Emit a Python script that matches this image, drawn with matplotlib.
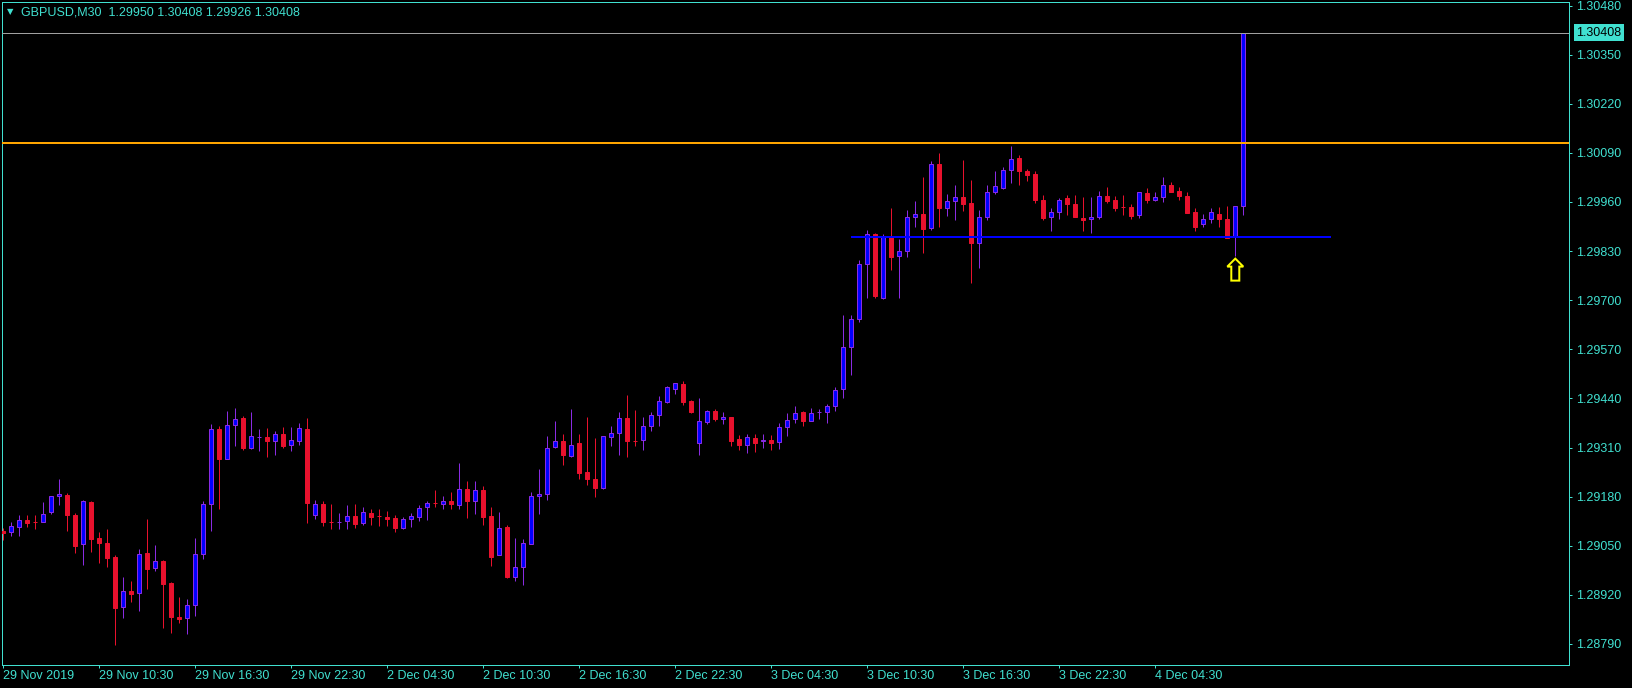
import matplotlib
matplotlib.use('Agg')
import matplotlib.pyplot as plt
from matplotlib.patches import Rectangle, Polygon
import matplotlib.transforms as mtransforms

# ---------------- data (GBPUSD M30) ----------------
opens = [1.29088, 1.29086, 1.29099, 1.29117, 1.29113, 1.29112, 1.29140, 1.29181, 1.29184, 1.29131,
         1.29054, 1.29166, 1.29070, 1.29056, 1.29019, 1.28887, 1.28930, 1.28924, 1.29030, 1.28990,
         1.29009, 1.28952, 1.28861, 1.28860, 1.28892, 1.29029, 1.29160, 1.29358, 1.29280, 1.29369,
         1.29387, 1.29309, 1.29338, 1.29338, 1.29326, 1.29346, 1.29318, 1.29328, 1.29358, 1.29131,
         1.29160, 1.29113, 1.29112, 1.29115, 1.29128, 1.29109, 1.29136, 1.29129, 1.29126, 1.29123,
         1.29098, 1.29120, 1.29126, 1.29152, 1.29163, 1.29160, 1.29168, 1.29157, 1.29199, 1.29168,
         1.29197, 1.29128, 1.29025, 1.29099, 1.28968, 1.28993, 1.29054, 1.29181, 1.29186, 1.29311,
         1.29326, 1.29287, 1.29321, 1.29244, 1.29228, 1.29204, 1.29338, 1.29348, 1.29387, 1.29328,
         1.29329, 1.29367, 1.29395, 1.29430, 1.29466, 1.29478, 1.29432, 1.29321, 1.29377, 1.29406,
         1.29385, 1.29390, 1.29332, 1.29318, 1.29335, 1.29328, 1.29329, 1.29324, 1.29364, 1.29385,
         1.29403, 1.29379, 1.29403, 1.29403, 1.29421, 1.29466, 1.29575, 1.29649, 1.29795, 1.29874,
         1.29707, 1.29868, 1.29816, 1.29830, 1.29919, 1.29927, 1.29891, 1.30060, 1.29943, 1.29962,
         1.29972, 1.29957, 1.29851, 1.29919, 1.29986, 1.29998, 1.30045, 1.30076, 1.30041, 1.30033,
         1.29965, 1.29919, 1.29933, 1.29970, 1.29955, 1.29917, 1.29914, 1.29919, 1.29976, 1.29965,
         1.29947, 1.29946, 1.29925, 1.29984, 1.29965, 1.29972, 1.30004, 1.29988, 1.29977, 1.29933,
         1.29901, 1.29914, 1.29927, 1.29914, 1.29868, 1.29950]
highs = [1.29098, 1.29113, 1.29131, 1.29131, 1.29131, 1.29166, 1.29181, 1.29226, 1.29189, 1.29136,
         1.29171, 1.29168, 1.29086, 1.29094, 1.29025, 1.28967, 1.28957, 1.29041, 1.29121, 1.29052,
         1.29012, 1.28955, 1.28914, 1.28909, 1.29070, 1.29168, 1.29372, 1.29367, 1.29407, 1.29415,
         1.29393, 1.29404, 1.29359, 1.29362, 1.29353, 1.29364, 1.29364, 1.29375, 1.29388, 1.29171,
         1.29168, 1.29161, 1.29137, 1.29157, 1.29161, 1.29153, 1.29147, 1.29147, 1.29142, 1.29131,
         1.29126, 1.29137, 1.29158, 1.29168, 1.29198, 1.29181, 1.29192, 1.29269, 1.29222, 1.29222,
         1.29209, 1.29153, 1.29139, 1.29105, 1.29070, 1.29067, 1.29192, 1.29253, 1.29341, 1.29380,
         1.29345, 1.29412, 1.29345, 1.29391, 1.29335, 1.29340, 1.29367, 1.29404, 1.29449, 1.29409,
         1.29391, 1.29404, 1.29446, 1.29473, 1.29480, 1.29486, 1.29437, 1.29442, 1.29409, 1.29412,
         1.29403, 1.29390, 1.29343, 1.29345, 1.29345, 1.29345, 1.29343, 1.29374, 1.29401, 1.29420,
         1.29406, 1.29414, 1.29412, 1.29424, 1.29469, 1.29661, 1.29661, 1.29806, 1.29886, 1.29878,
         1.29874, 1.29944, 1.29862, 1.29939, 1.29962, 1.30026, 1.30068, 1.30090, 1.29981, 1.30005,
         1.30071, 1.30018, 1.29939, 1.30006, 1.30041, 1.30052, 1.30108, 1.30084, 1.30047, 1.30041,
         1.29978, 1.29944, 1.29970, 1.29979, 1.29978, 1.29972, 1.29972, 1.29989, 1.29999, 1.29976,
         1.29978, 1.29955, 1.29986, 1.29996, 1.29986, 1.30026, 1.30013, 1.29999, 1.29987, 1.29944,
         1.29927, 1.29944, 1.29946, 1.29949, 1.29950, 1.30408]
lows = [1.29065, 1.29076, 1.29076, 1.29100, 1.29095, 1.29112, 1.29135, 1.29159, 1.29090, 1.29032,
        1.29000, 1.29033, 1.29005, 1.28995, 1.28788, 1.28860, 1.28902, 1.28878, 1.28936, 1.28984,
        1.28833, 1.28820, 1.28846, 1.28817, 1.28865, 1.29016, 1.29089, 1.29147, 1.29280, 1.29315,
        1.29304, 1.29306, 1.29301, 1.29286, 1.29291, 1.29309, 1.29301, 1.29318, 1.29111, 1.29122,
        1.29103, 1.29095, 1.29095, 1.29095, 1.29097, 1.29104, 1.29104, 1.29103, 1.29103, 1.29087,
        1.29095, 1.29100, 1.29116, 1.29119, 1.29153, 1.29146, 1.29146, 1.29146, 1.29124, 1.29135,
        1.29106, 1.28997, 1.29025, 1.28964, 1.28958, 1.28947, 1.29054, 1.29135, 1.29172, 1.29308,
        1.29264, 1.29284, 1.29226, 1.29212, 1.29180, 1.29199, 1.29313, 1.29290, 1.29286, 1.29313,
        1.29304, 1.29355, 1.29368, 1.29427, 1.29452, 1.29423, 1.29402, 1.29291, 1.29371, 1.29379,
        1.29371, 1.29313, 1.29304, 1.29296, 1.29299, 1.29309, 1.29304, 1.29307, 1.29341, 1.29376,
        1.29368, 1.29379, 1.29385, 1.29376, 1.29406, 1.29440, 1.29503, 1.29643, 1.29706, 1.29706,
        1.29703, 1.29781, 1.29706, 1.29814, 1.29893, 1.29826, 1.29886, 1.29895, 1.29923, 1.29912,
        1.29935, 1.29746, 1.29784, 1.29911, 1.29980, 1.29994, 1.30011, 1.30006, 1.30016, 1.29958,
        1.29911, 1.29882, 1.29916, 1.29926, 1.29921, 1.29884, 1.29879, 1.29914, 1.29958, 1.29937,
        1.29926, 1.29915, 1.29917, 1.29957, 1.29962, 1.29961, 1.29987, 1.29966, 1.29930, 1.29882,
        1.29894, 1.29903, 1.29894, 1.29865, 1.29818, 1.29926]
closes = [1.29085, 1.29103, 1.29117, 1.29111, 1.29112, 1.29133, 1.29181, 1.29187, 1.29132, 1.29050,
          1.29168, 1.29069, 1.29056, 1.29018, 1.28886, 1.28929, 1.28923, 1.29027, 1.28989, 1.29009,
          1.28950, 1.28862, 1.28857, 1.28892, 1.29027, 1.29160, 1.29358, 1.29280, 1.29369, 1.29385,
          1.29309, 1.29340, 1.29339, 1.29326, 1.29345, 1.29315, 1.29329, 1.29361, 1.29164, 1.29160,
          1.29114, 1.29112, 1.29113, 1.29128, 1.29108, 1.29139, 1.29127, 1.29128, 1.29121, 1.29098,
          1.29120, 1.29128, 1.29149, 1.29162, 1.29162, 1.29168, 1.29160, 1.29199, 1.29168, 1.29197,
          1.29127, 1.29021, 1.29096, 1.28968, 1.28993, 1.29056, 1.29181, 1.29186, 1.29308, 1.29326,
          1.29289, 1.29318, 1.29242, 1.29226, 1.29204, 1.29340, 1.29348, 1.29387, 1.29326, 1.29327,
          1.29367, 1.29395, 1.29432, 1.29469, 1.29480, 1.29431, 1.29405, 1.29380, 1.29406, 1.29385,
          1.29390, 1.29328, 1.29318, 1.29338, 1.29323, 1.29329, 1.29323, 1.29364, 1.29384, 1.29401,
          1.29379, 1.29401, 1.29404, 1.29419, 1.29461, 1.29575, 1.29649, 1.29795, 1.29874, 1.29710,
          1.29868, 1.29814, 1.29830, 1.29919, 1.29927, 1.29888, 1.30060, 1.29943, 1.29962, 1.29972,
          1.29954, 1.29851, 1.29919, 1.29986, 1.30002, 1.30045, 1.30073, 1.30041, 1.30032, 1.29964,
          1.29918, 1.29933, 1.29965, 1.29954, 1.29921, 1.29911, 1.29919, 1.29975, 1.29962, 1.29945,
          1.29946, 1.29924, 1.29986, 1.29965, 1.29972, 1.30004, 1.29987, 1.29977, 1.29932, 1.29894,
          1.29914, 1.29933, 1.29914, 1.29865, 1.29950, 1.30408]

time_labels = ["29 Nov 2019", "29 Nov 10:30", "29 Nov 16:30", "29 Nov 22:30",
               "2 Dec 04:30", "2 Dec 10:30", "2 Dec 16:30", "2 Dec 22:30",
               "3 Dec 04:30", "3 Dec 10:30", "3 Dec 16:30", "3 Dec 22:30", "4 Dec 04:30"]
bars_per_label = 12
price_ticks = [1.28790, 1.28920, 1.29050, 1.29180, 1.29310, 1.29440, 1.29570,
               1.29700, 1.29830, 1.29960, 1.30090, 1.30220, 1.30350, 1.30480]
resistance_level = 1.30117
support_level = 1.29866
support_start, support_end = 106, 166
bid_price = 1.30408
signal_bar = 154
header = "GBPUSD,M30  1.29950 1.30408 1.29926 1.30408"

# ---------------- style ----------------
TURQ = '#40E0D0'
BULL_FILL = '#0000FF'
BULL_EDGE = '#8A2BE2'
BEAR = '#E8112D'
FONT = ['Liberation Sans', 'DejaVu Sans']
PX = 0.72  # one pixel in points at 100 dpi

W, H = 1633, 688
fig = plt.figure(figsize=(W / 100, H / 100), dpi=100, facecolor='black')
ax = fig.add_axes([2 / W, 23 / H, 1567 / W, 663 / H], facecolor='black')

n = len(opens)
for i in range(n):
    o, h, l, c = opens[i], highs[i], lows[i], closes[i]
    bull = c > o
    wick = BULL_EDGE if bull else BEAR
    ax.vlines(i, l, h, color=wick, lw=PX, zorder=2)
    ax.add_patch(Rectangle((i - 0.25, min(o, c)), 0.5, abs(c - o),
                           facecolor=BULL_FILL if bull else BEAR,
                           edgecolor=wick, lw=PX, zorder=3))

# horizontal levels
ax.axhline(bid_price, color='#A0A0A0', lw=PX, zorder=4)
ax.axhline(resistance_level, color='#FFA500', lw=2 * PX, zorder=4)
ax.hlines(support_level, support_start, support_end, color='#0000FF', lw=2 * PX, zorder=4)

# signal arrow (hollow up arrow under the bar)
trans = fig.dpi_scale_trans + mtransforms.ScaledTranslation(signal_bar, lows[signal_bar], ax.transData)
arrow_px = [(0, -3), (8, -11), (4, -11), (4, -25), (-4, -25), (-4, -11), (-8, -11)]
ax.add_patch(Polygon([(x / 100, y / 100) for x, y in arrow_px], closed=True,
                     facecolor='black', edgecolor='#FFFF00', lw=2 * PX,
                     transform=trans, zorder=5, clip_on=False))

ax.set_xlim(-1.3 / 8, -1.3 / 8 + 1567 / 8)
ax.set_ylim(1.304946 - 665 * 0.00002647, 1.304946 - 2 * 0.00002647)

# axes styling
for s in ax.spines.values():
    s.set_color(TURQ)
    s.set_linewidth(PX)

ax.set_xticks(list(range(0, bars_per_label * len(time_labels), bars_per_label)))
ax.set_xticklabels(time_labels, fontfamily=FONT)
for lab in ax.get_xticklabels():
    lab.set_horizontalalignment('left')
ax.tick_params(axis='x', direction='out', length=3 * PX, width=PX, colors=TURQ,
               labelsize=9, pad=1.5)

ax.yaxis.tick_right()
ax.set_yticks(price_ticks)
ax.set_yticklabels([f"{p:.5f}" for p in price_ticks], fontfamily=FONT)
ax.tick_params(axis='y', direction='out', length=3 * PX, width=PX, colors=TURQ,
               labelsize=9, pad=3)

# current price tag
ax.annotate(f"{bid_price:.5f}", xy=(1, bid_price), xycoords=('axes fraction', 'data'),
            xytext=(5.2, 0), textcoords='offset points', ha='left', va='center',
            fontsize=9, color='black', fontfamily=FONT,
            bbox=dict(boxstyle='square,pad=0.2', facecolor=TURQ, edgecolor='none'),
            annotation_clip=False, zorder=6)

# header
fig.text(10 / W, 1 - 12 / H, '\u25BC', fontsize=6, color=TURQ, family='DejaVu Sans',
         ha='center', va='center')
fig.text(21 / W, 1 - 12.5 / H, header, fontsize=9, color=TURQ, family=FONT,
         ha='left', va='center')

fig.savefig('out.png', dpi=100, facecolor='black')
